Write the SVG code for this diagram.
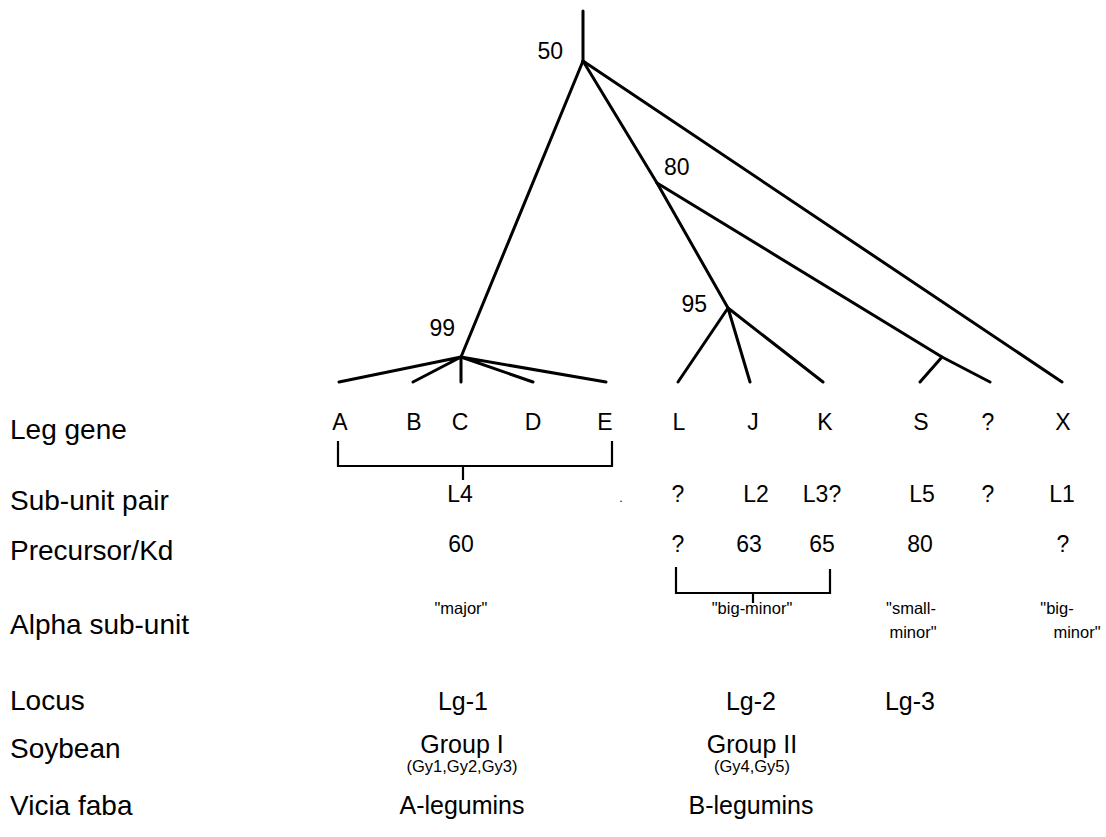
<svg xmlns="http://www.w3.org/2000/svg" width="1106" height="837" viewBox="0 0 1106 837">
<style>
text{font-family:"Liberation Sans",Arial,sans-serif;fill:#000}
.t{font-size:23px}
.rl{font-size:28px}
.m{text-anchor:middle}
.big{font-size:25px}
.sm{font-size:16.5px}
.xs{font-size:16.5px}
.edge{stroke:#000;stroke-width:3;fill:none;stroke-linecap:round;stroke-linejoin:round}
.br{stroke:#000;stroke-width:2.2;fill:none}
</style>
<rect width="1106" height="837" fill="#fff"/>
<g id="connectors">
<path class="edge" d="M583,11V61"/>
<path class="edge" d="M583,61L461,357"/>
<path class="edge" d="M583,61L657,183L728,308"/>
<path class="edge" d="M583,61L1062,382"/>
<path class="edge" d="M657,183L942,357L990,382"/>
<path class="edge" d="M942,357L920,382"/>
<path class="edge" d="M461,357L339,382M461,357L413,382M461,357V382M461,357L533,382M461,357L606,382"/>
<path class="edge" d="M728,308L678,382M728,308L750,382M728,308L823,382"/>
<path class="br" d="M338,441V466H612V441M463,466V480"/>
<path class="br" d="M676,567V593H830V569M753,593V603"/>
</g>
<g id="node-labels" class="t">
<text x="563" y="59" text-anchor="end">50</text>
<text x="664" y="175">80</text>
<text x="707" y="312" text-anchor="end">95</text>
<text x="455" y="336" text-anchor="end">99</text>
</g>
<g id="row-labels" class="rl">
<text x="10" y="439">Leg gene</text>
<text x="10" y="510">Sub-unit pair</text>
<text x="10" y="560">Precursor/Kd</text>
<text x="10" y="634">Alpha sub-unit</text>
<text x="10" y="710">Locus</text>
<text x="10" y="758">Soybean</text>
<text x="10" y="815">Vicia faba</text>
</g>
<g id="leaves" class="t m">
<text x="340" y="430">A</text>
<text x="414" y="430">B</text>
<text x="460" y="430">C</text>
<text x="533" y="430">D</text>
<text x="605" y="430">E</text>
<text x="679" y="430">L</text>
<text x="753" y="430">J</text>
<text x="825" y="430">K</text>
<text x="921" y="430">S</text>
<text x="988" y="430">?</text>
<text x="1063" y="430">X</text>
</g>
<g id="subunit-pair" class="t m">
<text x="460" y="502">L4</text>
<text x="621" y="502" font-size="12">.</text>
<text x="678" y="502">?</text>
<text x="756" y="502">L2</text>
<text x="822" y="502">L3?</text>
<text x="922" y="502">L5</text>
<text x="988" y="502">?</text>
<text x="1062" y="502">L1</text>
</g>
<g id="precursor" class="t m">
<text x="461" y="552">60</text>
<text x="678" y="552">?</text>
<text x="749" y="552">63</text>
<text x="822" y="552">65</text>
<text x="920" y="552">80</text>
<text x="1063" y="552">?</text>
</g>
<g id="alpha" class="xs m">
<text x="461" y="614">"major"</text>
<text x="752" y="614">"big-minor"</text>
<text x="911" y="614">"small-</text>
<text x="913" y="638">minor"</text>
<text x="1057" y="614">"big-</text>
<text x="1077" y="638">minor"</text>
</g>
<g id="locus" class="big m">
<text x="463" y="710">Lg-1</text>
<text x="751" y="710">Lg-2</text>
<text x="910" y="710">Lg-3</text>
</g>
<g id="soybean" class="m">
<text class="big" x="462" y="753">Group I</text>
<text class="sm" x="462" y="772">(Gy1,Gy2,Gy3)</text>
<text class="big" x="752" y="753">Group II</text>
<text class="sm" x="752" y="772">(Gy4,Gy5)</text>
</g>
<g id="vicia" class="big m">
<text x="462" y="814">A-legumins</text>
<text x="751" y="814">B-legumins</text>
</g>
</svg>
